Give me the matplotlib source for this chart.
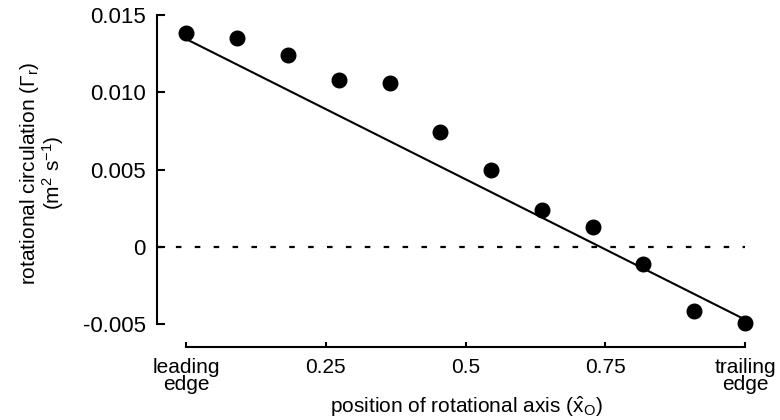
import matplotlib
matplotlib.use("Agg")
import matplotlib.pyplot as plt

plt.rcParams['font.family'] = ['Liberation Sans', 'DejaVu Sans']
plt.rcParams['mathtext.fontset'] = 'custom'
plt.rcParams['mathtext.rm'] = 'Liberation Sans'
plt.rcParams['mathtext.it'] = 'Liberation Sans:italic'

# data
axis_pos = [0.0, 0.091, 0.182, 0.273, 0.364, 0.455, 0.545, 0.636, 0.727, 0.818, 0.909, 1.0]
circulation = [0.01384, 0.01351, 0.01241, 0.01079, 0.0106, 0.00743,
               0.0050, 0.00241, 0.00129, -0.0011, -0.00414, -0.0049]
fit_x = [0.0, 1.0]
fit_y = [0.01345, -0.0047]

xticks = [0, 0.25, 0.5, 0.75, 1.0]
xtick_labels = ["leading\nedge", "0.25", "0.5", "0.75", "trailing\nedge"]
yticks = [-0.005, 0, 0.005, 0.010, 0.015]
ytick_labels = ["-0.005", "0", "0.005", "0.010", "0.015"]

fig = plt.figure(figsize=(7.8, 4.2), dpi=100)
ax = fig.add_axes([0.2013, 0.1738, 0.7756, 0.8088])

ax.axhline(0, xmin=0, xmax=(1.0 + 0.052) / 1.082, color="black", lw=1.6,
           linestyle=(0, (2.5, 6)))
ax.plot(fit_x, fit_y, color="black", lw=1.5)
ax.plot(axis_pos, circulation, "o", color="black", ms=10.5, clip_on=False)

ax.set_xlim(-0.052, 1.03)
ax.set_ylim(-0.00647, 0.0155)

ax.spines['top'].set_visible(False)
ax.spines['right'].set_visible(False)
ax.spines['left'].set_bounds(-0.005, 0.015)
ax.spines['bottom'].set_bounds(0, 1)
for s in ['left', 'bottom']:
    ax.spines[s].set_linewidth(1.5)

ax.set_xticks(xticks)
ax.set_xticklabels(xtick_labels, fontsize=15, linespacing=0.85)
ax.set_yticks(yticks)
ax.set_yticklabels(ytick_labels, fontsize=16)
ax.tick_params(axis='y', direction='in', length=6, width=1.5, pad=8)
ax.tick_params(axis='x', direction='in', length=3.5, width=1.5, pad=8)

# x label placed by hand so it fits under the two-line tick labels
fig.text(466 / 780, 7 / 420,
         r"position of rotational axis ($\hat{\mathrm{x}}_\mathrm{O}$)",
         ha='center', va='baseline', fontsize=15)
fig.text(42 / 780, 1 - 173 / 420,
         "rotational circulation ($\\Gamma_\\mathrm{r}$)\n(m$^2$ s$^{-1}$)",
         rotation=90, ha='center', va='center', multialignment='center',
         fontsize=15, linespacing=0.95)

plt.savefig("out.png", dpi=100)
